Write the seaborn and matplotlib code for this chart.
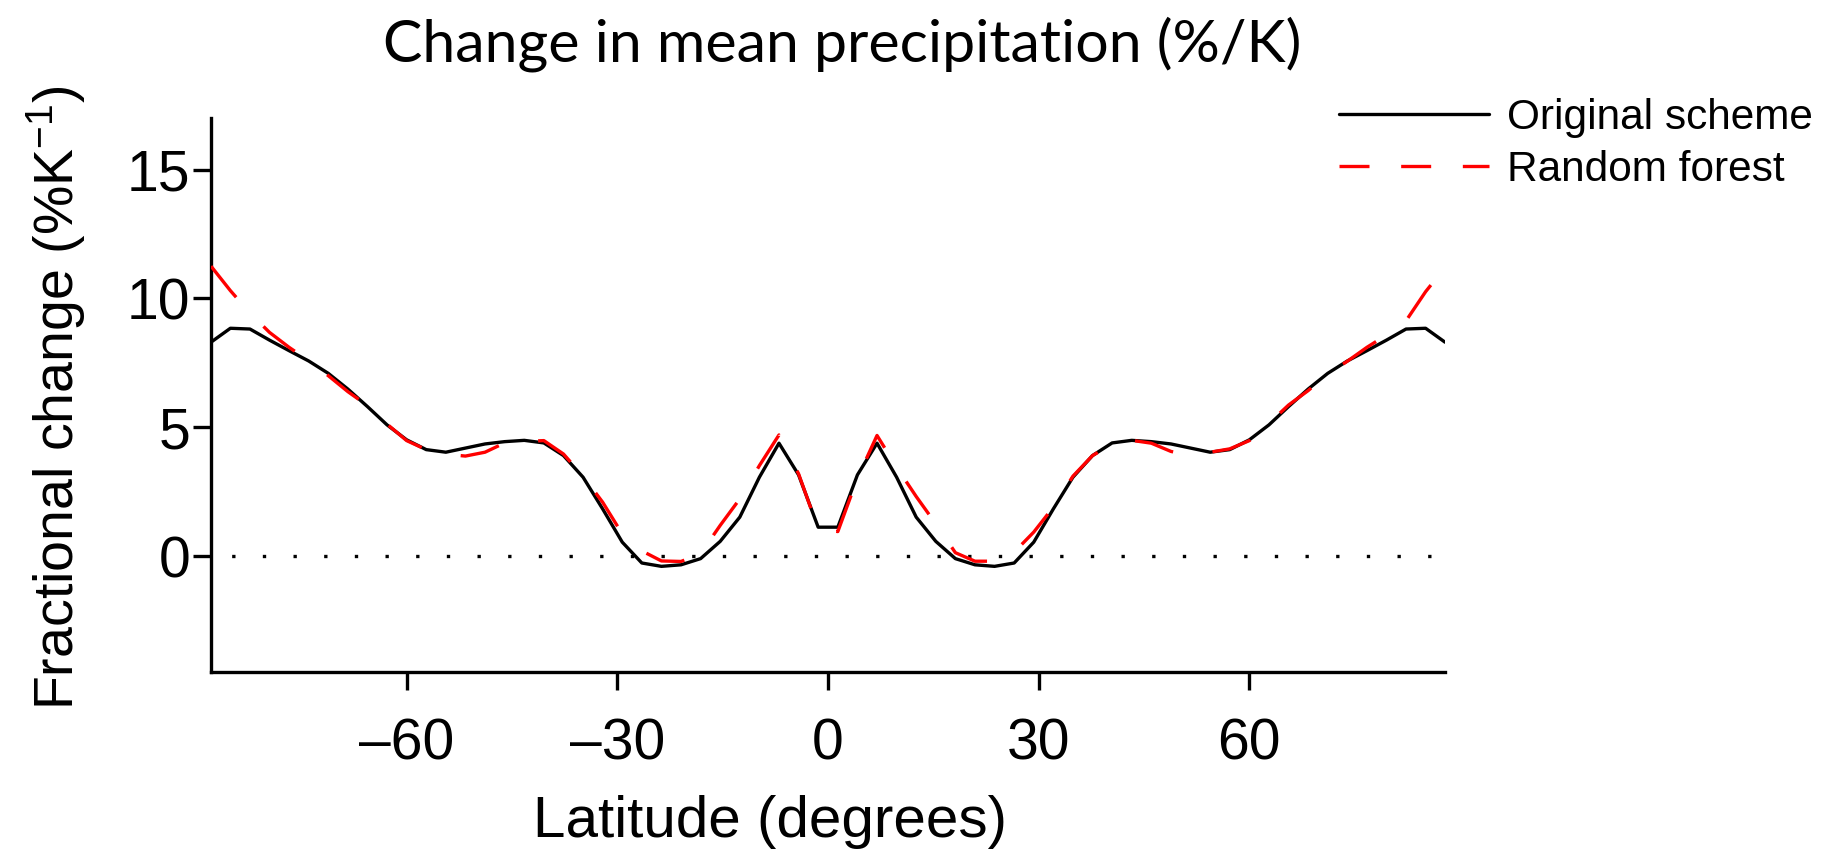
import matplotlib
matplotlib.use("Agg")
import matplotlib.pyplot as plt
from matplotlib.lines import Line2D
import numpy as np
import pandas as pd
import seaborn as sns

# ---- data ----
latitude = [-87.86, -85.10, -82.31, -79.53, -76.74, -73.95, -71.16, -68.37,
            -65.58, -62.79, -60.00, -57.21, -54.42, -51.63, -48.84, -46.04,
            -43.25, -40.46, -37.67, -34.88, -32.09, -29.30, -26.51, -23.72,
            -20.93, -18.14, -15.35, -12.56, -9.77, -6.98, -4.19, -1.40,
            1.40, 4.19, 6.98, 9.77, 12.56, 15.35, 18.14, 20.93,
            23.72, 26.51, 29.30, 32.09, 34.88, 37.67, 40.46, 43.25,
            46.04, 48.84, 51.63, 54.42, 57.21, 60.00, 62.79, 65.58,
            68.37, 71.16, 73.95, 76.74, 79.53, 82.31, 85.10, 87.86]

original_scheme = [8.30, 8.84, 8.81, 8.38, 7.97, 7.57, 7.09, 6.48,
                   5.80, 5.09, 4.51, 4.13, 4.03, 4.19, 4.35, 4.44,
                   4.49, 4.39, 3.90, 3.06, 1.83, 0.54, -0.27, -0.40,
                   -0.34, -0.10, 0.57, 1.51, 3.06, 4.38, 3.15, 1.12,
                   1.12, 3.15, 4.38, 3.06, 1.51, 0.57, -0.10, -0.34,
                   -0.40, -0.27, 0.54, 1.83, 3.06, 3.90, 4.39, 4.49,
                   4.44, 4.35, 4.19, 4.03, 4.13, 4.51, 5.09, 5.80,
                   6.48, 7.09, 7.57, 7.97, 8.38, 8.81, 8.84, 8.30]

random_forest = [11.25, 10.30, 9.43, 8.68, 8.10, 7.58, 7.00, 6.38,
                 5.84, 5.12, 4.48, 4.13, 3.95, 3.88, 4.03, 4.39,
                 4.45, 4.48, 3.96, 3.10, 2.09, 0.86, 0.20, -0.19,
                 -0.21, 0.09, 1.19, 2.22, 3.51, 4.70, 3.19, 1.06,
                 0.95, 3.02, 4.68, 3.45, 2.31, 1.25, 0.13, -0.20,
                 -0.20, 0.15, 0.93, 1.90, 3.10, 3.90, 4.35, 4.49,
                 4.38, 4.06, 3.90, 4.03, 4.16, 4.48, 5.15, 5.86,
                 6.42, 7.07, 7.56, 8.10, 8.58, 9.13, 10.26, 11.20]

series_names = ["Original scheme", "Random forest"]
x_ticks = [-60, -30, 0, 30, 60]
y_ticks = [0, 5, 10, 15]

title_text = "Change in mean precipitation (%/K)"
x_label = "Latitude (degrees)"
y_label = "Fractional change (%K$^{-1}$)"

# ---- styling ----
sns.set_theme(style="white")
plt.rcParams["font.family"] = ["Liberation Sans", "DejaVu Sans"]
plt.rcParams["mathtext.fontset"] = "custom"
plt.rcParams["mathtext.rm"] = "Liberation Sans"
plt.rcParams["mathtext.it"] = "Liberation Sans"
plt.rcParams["text.color"] = "black"
plt.rcParams["axes.labelcolor"] = "black"

df = pd.DataFrame({
    "lat": latitude * 2,
    "value": original_scheme + random_forest,
    "series": [series_names[0]] * len(latitude) + [series_names[1]] * len(latitude),
})

W, H = 1830, 859
fig = plt.figure(figsize=(W / 100, H / 100), dpi=100)
ax_left, ax_right, ax_top, ax_bot = 211, 1445, 118, 672
ax = fig.add_axes([ax_left / W, 1 - ax_bot / H, (ax_right - ax_left) / W, (ax_bot - ax_top) / H])

lw = 2.4
ax.axhline(0, color="black", lw=lw, linestyle=(3, (1, 8.2)), zorder=1)

sns.lineplot(data=df, x="lat", y="value", hue="series", style="series",
             palette={series_names[0]: "black", series_names[1]: "#ff0000"},
             dashes={series_names[0]: "", series_names[1]: (12, 12)},
             linewidth=lw, ax=ax, legend=False, zorder=3)

ax.set_xlim(latitude[0], latitude[-1])
ax.set_ylim(-4.5, 17)
ax.set_xticks(x_ticks)
ax.set_yticks(y_ticks)
ax.set_xticklabels([f"{t}".replace("-", "\u2013") for t in x_ticks])

for side in ["top", "right"]:
    ax.spines[side].set_visible(False)
for side in ["left", "bottom"]:
    ax.spines[side].set_linewidth(lw)
    ax.spines[side].set_color("black")

ax.tick_params(axis="both", which="both", direction="out", length=13, width=lw,
               color="black", labelsize=41, labelcolor="black")
ax.tick_params(axis="x", pad=20, bottom=True)
ax.tick_params(axis="y", pad=2, left=True)

ax.set_xlabel(x_label, fontsize=42, color="black")
ax.set_ylabel(y_label, fontsize=40, color="black")
ax.xaxis.set_label_coords(0.453, -0.222)
ax.yaxis.set_label_coords(-0.100, 0.495)

fig.text(842 / W, 1 - 61 / H, title_text, ha="center", va="baseline",
         fontsize=42.5, family=["Lato", "DejaVu Sans"], color="black")

handles = [Line2D([], [], color="black", lw=lw),
           Line2D([], [], color="#ff0000", lw=lw, dashes=(9, 9.5))]
leg = fig.legend(handles, series_names, loc="upper left",
                 bbox_to_anchor=(1339 / W, 1 - 98 / H), frameon=False,
                 fontsize=30.5, handlelength=3.55, handletextpad=0.42,
                 labelspacing=0.28, borderpad=0, borderaxespad=0)
for t in leg.get_texts():
    t.set_color("black")

fig.savefig("out.png", dpi=100, facecolor="white")
